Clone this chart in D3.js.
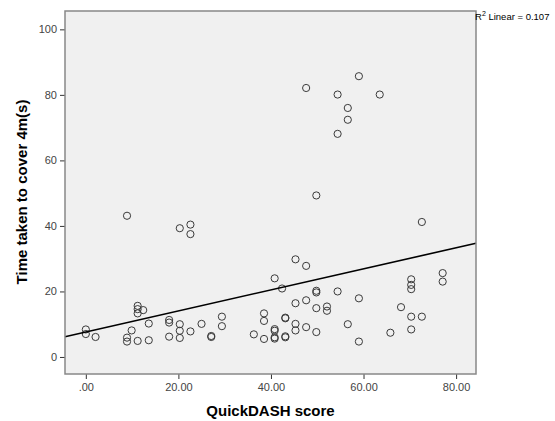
<!DOCTYPE html>
<meta charset="utf-8">
<style>
body { margin: 0; background: #fff; }
svg text { font-family: Arial, "Liberation Sans", sans-serif; }
.tick text { font-size: 11px; fill: #444; }
.tick line { stroke: #333; }
.title { font-size: 15px; font-weight: bold; fill: #000; }
</style>
<body>
<script src="https://d3js.org/d3.v7.min.js"></script>
<script>
// QuickDASH score (x) and time taken to cover 4m in seconds (y)
var quickdash = [0, 0, 2.1, 8.9, 8.9, 8.9, 9.9, 11.2, 11.2, 11.2, 11.2, 12.4, 13.6, 13.6,
  18, 18, 18, 20.3, 20.3, 20.3, 20.3, 22.6, 22.6, 22.6, 25, 27.1, 27.1, 29.4, 29.4,
  36.3, 38.5, 38.5, 38.5, 40.8, 40.8, 40.8, 40.8, 40.8, 42.4, 43.1, 43.1, 43.1, 43.1,
  45.3, 45.3, 45.3, 45.3, 47.6, 47.6, 47.6, 47.6, 49.8, 49.8, 49.8, 49.8, 49.8,
  52.1, 52.1, 54.4, 54.4, 54.4, 56.6, 56.6, 56.6, 59, 59, 59, 63.5, 65.8, 68.1,
  70.3, 70.3, 70.3, 70.3, 70.3, 72.6, 72.6, 77.1, 77.1];
var timeTaken = [8.4, 7.0, 6.1, 43.1, 5.9, 4.7, 8.1, 15.6, 14.6, 13.3, 4.9, 14.3, 10.2, 5.1,
  11.3, 10.5, 6.2, 39.3, 10.0, 8.0, 5.8, 40.4, 37.5, 7.8, 10.1, 6.4, 6.1, 12.3, 9.4,
  6.9, 13.3, 11.0, 5.5, 24.0, 8.5, 8.0, 6.0, 5.6, 20.9, 12.0, 11.8, 6.3, 6.0,
  29.8, 16.4, 10.1, 8.1, 82.1, 27.8, 17.3, 9.1, 49.3, 20.2, 19.7, 14.9, 7.6,
  15.4, 14.1, 80.1, 68.1, 20.0, 76.0, 72.4, 10.0, 85.7, 17.9, 4.7, 80.1, 7.4, 15.2,
  23.7, 22.0, 20.7, 12.3, 8.4, 41.2, 12.3, 25.6, 23.0];

// linear fit shown in the chart
var fitIntercept = 7.64, fitSlope = 0.321;
var r2Label = "0.107";

var yTicks = [0, 20, 40, 60, 80, 100];
var xTicks = [0, 20, 40, 60, 80];
var xTickLabels = [".00", "20.00", "40.00", "60.00", "80.00"];

var width = 555, height = 421;
var plotLeft = 65, plotRight = 476, plotTop = 11, plotBottom = 374;
var xMin = -4.5, xMax = 84.3;

var x = d3.scaleLinear().domain([xMin, xMax]).range([plotLeft, plotRight]);
var y = d3.scaleLinear().domain([-5.2, 105.6]).range([plotBottom, plotTop]);

var svg = d3.select("body").append("svg")
    .attr("width", width)
    .attr("height", height);

// plot background
svg.append("rect")
    .attr("x", plotLeft).attr("y", plotTop)
    .attr("width", plotRight - plotLeft).attr("height", plotBottom - plotTop)
    .attr("fill", "#f0f0f0");

// axes
svg.append("g")
    .attr("transform", "translate(" + plotLeft + ",0)")
    .call(d3.axisLeft(y).tickValues(yTicks).tickSize(5).tickPadding(3).tickSizeOuter(0))
    .call(function(g) { g.select(".domain").remove(); });

svg.append("g")
    .attr("transform", "translate(0," + plotBottom + ")")
    .call(d3.axisBottom(x).tickValues(xTicks).tickSize(5).tickPadding(4)
      .tickFormat(function(d, i) { return xTickLabels[i]; }))
    .call(function(g) { g.select(".domain").remove(); });

// points
var pts = quickdash.map(function(d, i) { return {x: d, y: timeTaken[i]}; });
svg.append("g").selectAll("circle")
    .data(pts)
  .enter().append("circle")
    .attr("cx", function(d) { return x(d.x); })
    .attr("cy", function(d) { return y(d.y); })
    .attr("r", 3.6)
    .attr("fill", "none")
    .attr("stroke", "#3a3a3a")
    .attr("stroke-width", 1);

// fit line
svg.append("line")
    .attr("x1", x(xMin)).attr("y1", y(fitIntercept + fitSlope * xMin))
    .attr("x2", x(xMax)).attr("y2", y(fitIntercept + fitSlope * xMax))
    .attr("stroke", "#000")
    .attr("stroke-width", 1.6);

// frame
svg.append("rect")
    .attr("x", plotLeft).attr("y", plotTop)
    .attr("width", plotRight - plotLeft).attr("height", plotBottom - plotTop)
    .attr("fill", "none")
    .attr("stroke", "#888")
    .attr("stroke-width", 1.5);

// R2 label
var r2 = svg.append("text")
    .attr("x", plotRight - 1).attr("y", 20)
    .style("font-size", "9.5px")
    .attr("fill", "#000");
r2.append("tspan").text("R");
r2.append("tspan").attr("dy", -4).style("font-size", "7px").text("2");
r2.append("tspan").attr("dy", 4).text(" Linear = " + r2Label);

// axis titles
svg.append("text")
    .attr("class", "title")
    .attr("x", (plotLeft + plotRight) / 2)
    .attr("y", 416)
    .style("text-anchor", "middle")
    .text("QuickDASH score");

svg.append("text")
    .attr("class", "title")
    .attr("transform", "translate(27," + 192 + ") rotate(-90)")
    .style("text-anchor", "middle")
    .text("Time taken to cover 4m(s)");
</script>
</body>
